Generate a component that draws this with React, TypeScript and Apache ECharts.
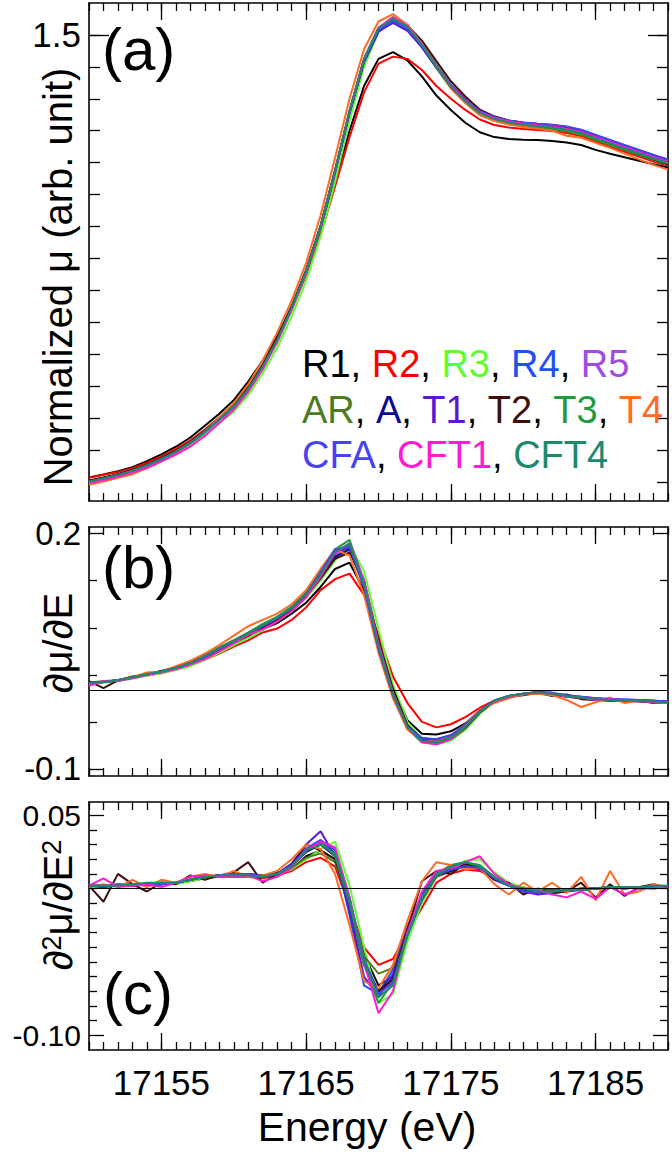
import React, { useEffect, useRef } from "react";
import * as echarts from "echarts";

const FONT = "'Liberation Sans', Arial, Helvetica, sans-serif";

// Energy grid (eV)
const ENERGY = [17150, 17151, 17152, 17153, 17154, 17155, 17156, 17157, 17158, 17159, 17160, 17161, 17162, 17163, 17164, 17165, 17166, 17167, 17168, 17169, 17170, 17171, 17172, 17173, 17174, 17175, 17176, 17177, 17178, 17179, 17180, 17181, 17182, 17183, 17184, 17185, 17186, 17187, 17188, 17189, 17190];

const SAMPLES = ["R1", "R2", "R3", "R4", "R5", "AR", "A", "T1", "T2", "T3", "T4", "CFA", "CFT1", "CFT4"];
const COLORS = ["#000000", "#ff0000", "#5cff2a", "#1f50f0", "#a04ce0", "#4e7a21", "#0a0a96", "#5b17d6", "#40100f", "#1f9a3c", "#ff6b21", "#4842f2", "#ff1ad6", "#1b8a6c"];
const LEGEND_ROWS = [[0, 1, 2, 3, 4], [5, 6, 7, 8, 9, 10], [11, 12, 13]];

// Tick values
const X_MAJOR = [17155, 17165, 17175, 17185];
const YA_MINOR = [0.1, 0.2, 0.3, 0.4, 0.5, 0.6, 0.7, 0.8, 0.9, 1.0, 1.1, 1.2, 1.3, 1.4, 1.5];
const YA_MAJOR = [1.5];
const YB_MINOR = [-0.04, 0.02, 0.08, 0.14];
const YB_MAJOR = [-0.1, 0.2];
const YC_MINOR = [-0.09, -0.08, -0.07, -0.06, -0.05, -0.04, -0.03, -0.02, -0.01, 0, 0.01, 0.02, 0.03, 0.04];
const YC_MAJOR = [-0.1, 0.05];

// (a) normalized mu
const A_R1 = [0.114,0.123,0.133,0.146,0.165,0.186,0.210,0.239,0.276,0.313,0.356,0.414,0.480,0.556,0.648,0.752,0.885,1.040,1.200,1.340,1.425,1.446,1.420,1.370,1.310,1.265,1.225,1.195,1.180,1.174,1.172,1.171,1.168,1.163,1.155,1.140,1.128,1.117,1.106,1.095,1.085];
const A_R2 = [0.113,0.122,0.131,0.143,0.160,0.180,0.203,0.230,0.264,0.302,0.343,0.398,0.465,0.545,0.640,0.748,0.875,1.025,1.180,1.320,1.410,1.432,1.425,1.390,1.340,1.300,1.265,1.235,1.218,1.210,1.205,1.202,1.199,1.193,1.183,1.166,1.150,1.134,1.119,1.103,1.090];
const A_R3 = [0.098,0.107,0.118,0.130,0.146,0.165,0.188,0.214,0.248,0.284,0.320,0.372,0.440,0.520,0.618,0.730,0.868,1.040,1.230,1.400,1.510,1.550,1.530,1.478,1.410,1.345,1.297,1.257,1.237,1.224,1.216,1.211,1.206,1.199,1.189,1.172,1.156,1.140,1.125,1.109,1.095];
const A_R4 = [0.101,0.111,0.122,0.135,0.152,0.171,0.194,0.221,0.256,0.295,0.335,0.390,0.460,0.543,0.643,0.758,0.898,1.072,1.258,1.420,1.515,1.546,1.522,1.470,1.405,1.343,1.298,1.262,1.243,1.231,1.224,1.219,1.215,1.208,1.198,1.182,1.166,1.150,1.135,1.119,1.105];
const A_R5 = [0.100,0.110,0.121,0.134,0.151,0.170,0.193,0.220,0.255,0.294,0.334,0.389,0.458,0.541,0.641,0.756,0.896,1.070,1.256,1.420,1.517,1.550,1.524,1.470,1.403,1.340,1.296,1.260,1.242,1.231,1.225,1.221,1.217,1.211,1.201,1.185,1.169,1.153,1.138,1.122,1.108];
const A_AR = [0.103,0.113,0.124,0.137,0.154,0.174,0.197,0.224,0.260,0.299,0.340,0.395,0.465,0.548,0.648,0.762,0.902,1.076,1.262,1.424,1.520,1.553,1.525,1.468,1.398,1.333,1.287,1.249,1.231,1.220,1.213,1.209,1.205,1.198,1.188,1.171,1.155,1.139,1.124,1.108,1.094];
const A_A = [0.102,0.112,0.123,0.136,0.153,0.173,0.196,0.223,0.258,0.297,0.337,0.392,0.462,0.545,0.644,0.758,0.897,1.070,1.255,1.415,1.510,1.540,1.515,1.462,1.397,1.336,1.292,1.256,1.238,1.227,1.220,1.215,1.211,1.204,1.194,1.177,1.161,1.145,1.130,1.114,1.100];
const A_T1 = [0.101,0.111,0.122,0.135,0.152,0.172,0.195,0.222,0.257,0.296,0.336,0.391,0.461,0.544,0.644,0.759,0.899,1.073,1.258,1.418,1.512,1.538,1.513,1.462,1.400,1.342,1.298,1.261,1.242,1.231,1.225,1.221,1.218,1.212,1.202,1.186,1.170,1.154,1.139,1.123,1.109];
const A_T2 = [0.104,0.114,0.124,0.137,0.154,0.174,0.197,0.224,0.260,0.299,0.340,0.396,0.467,0.550,0.650,0.764,0.903,1.076,1.262,1.425,1.522,1.552,1.530,1.482,1.418,1.355,1.307,1.266,1.245,1.232,1.225,1.221,1.217,1.208,1.196,1.178,1.160,1.143,1.127,1.110,1.095];
const A_T3 = [0.100,0.110,0.121,0.134,0.151,0.171,0.194,0.221,0.256,0.295,0.335,0.390,0.460,0.543,0.643,0.758,0.898,1.073,1.260,1.424,1.521,1.556,1.528,1.470,1.400,1.336,1.291,1.253,1.235,1.224,1.217,1.212,1.208,1.201,1.191,1.174,1.158,1.142,1.127,1.111,1.097];
const A_T4 = [0.091,0.101,0.113,0.124,0.142,0.164,0.190,0.220,0.258,0.302,0.347,0.406,0.480,0.567,0.668,0.786,0.935,1.115,1.300,1.455,1.542,1.565,1.532,1.472,1.400,1.333,1.287,1.250,1.231,1.219,1.212,1.206,1.200,1.184,1.178,1.162,1.146,1.128,1.110,1.093,1.078];
const A_CFA = [0.100,0.110,0.121,0.134,0.151,0.171,0.194,0.221,0.256,0.295,0.335,0.390,0.460,0.543,0.643,0.758,0.898,1.072,1.258,1.419,1.514,1.542,1.518,1.466,1.402,1.341,1.297,1.261,1.243,1.232,1.226,1.222,1.219,1.213,1.203,1.187,1.171,1.155,1.140,1.124,1.110];
const A_CFT1 = [0.096,0.106,0.117,0.129,0.145,0.164,0.185,0.210,0.244,0.284,0.326,0.382,0.453,0.537,0.638,0.754,0.896,1.072,1.260,1.424,1.522,1.556,1.528,1.471,1.403,1.340,1.295,1.258,1.240,1.229,1.222,1.217,1.213,1.206,1.196,1.180,1.164,1.148,1.133,1.117,1.103];
const A_CFT4 = [0.101,0.111,0.122,0.135,0.152,0.172,0.195,0.222,0.257,0.296,0.336,0.391,0.461,0.544,0.644,0.759,0.899,1.074,1.261,1.423,1.520,1.551,1.525,1.469,1.400,1.337,1.292,1.255,1.237,1.226,1.219,1.214,1.210,1.203,1.193,1.176,1.160,1.144,1.129,1.113,1.099];

// (b) first derivative
const D_R1 = [0.010,0.011,0.013,0.016,0.020,0.023,0.028,0.033,0.041,0.050,0.060,0.068,0.078,0.086,0.098,0.112,0.132,0.155,0.163,0.128,0.062,0.004,-0.038,-0.055,-0.056,-0.052,-0.042,-0.026,-0.014,-0.008,-0.005,-0.003,-0.005,-0.008,-0.010,-0.012,-0.013,-0.013,-0.014,-0.015,-0.016];
const D_R2 = [0.009,0.011,0.012,0.016,0.019,0.022,0.027,0.032,0.039,0.047,0.056,0.064,0.074,0.079,0.090,0.106,0.128,0.142,0.149,0.122,0.070,0.018,-0.016,-0.040,-0.047,-0.043,-0.034,-0.022,-0.013,-0.008,-0.005,-0.003,-0.004,-0.007,-0.009,-0.011,-0.012,-0.012,-0.013,-0.014,-0.015];
const D_R3 = [0.008,0.010,0.012,0.015,0.019,0.022,0.026,0.031,0.039,0.048,0.058,0.067,0.077,0.088,0.101,0.118,0.140,0.166,0.186,0.152,0.078,0.008,-0.040,-0.062,-0.068,-0.064,-0.050,-0.030,-0.015,-0.008,-0.004,-0.003,-0.004,-0.007,-0.009,-0.011,-0.012,-0.013,-0.013,-0.014,-0.015];
const D_R4 = [0.009,0.011,0.013,0.017,0.021,0.024,0.029,0.035,0.043,0.053,0.063,0.072,0.082,0.093,0.106,0.124,0.150,0.178,0.186,0.135,0.055,-0.006,-0.047,-0.063,-0.065,-0.060,-0.045,-0.026,-0.013,-0.007,-0.004,-0.002,-0.004,-0.007,-0.009,-0.011,-0.012,-0.012,-0.013,-0.014,-0.014];
const D_R5 = [0.009,0.011,0.013,0.016,0.020,0.024,0.029,0.035,0.043,0.053,0.062,0.071,0.082,0.092,0.105,0.122,0.147,0.174,0.184,0.137,0.057,-0.004,-0.046,-0.062,-0.064,-0.059,-0.045,-0.027,-0.014,-0.008,-0.005,-0.003,-0.004,-0.007,-0.009,-0.010,-0.011,-0.012,-0.012,-0.013,-0.014];
const D_AR = [0.010,0.012,0.013,0.017,0.021,0.025,0.030,0.036,0.045,0.055,0.064,0.073,0.084,0.094,0.106,0.123,0.145,0.170,0.180,0.133,0.056,-0.005,-0.046,-0.063,-0.066,-0.061,-0.046,-0.027,-0.013,-0.007,-0.004,-0.003,-0.004,-0.007,-0.009,-0.011,-0.012,-0.012,-0.013,-0.014,-0.015];
const D_A = [0.010,0.011,0.013,0.017,0.021,0.024,0.029,0.035,0.043,0.053,0.063,0.072,0.082,0.092,0.104,0.121,0.145,0.171,0.180,0.134,0.057,-0.003,-0.045,-0.061,-0.063,-0.059,-0.045,-0.027,-0.014,-0.008,-0.005,-0.003,-0.004,-0.007,-0.009,-0.011,-0.012,-0.012,-0.013,-0.014,-0.015];
const D_T1 = [0.009,0.011,0.013,0.017,0.021,0.024,0.029,0.035,0.044,0.054,0.063,0.072,0.082,0.092,0.105,0.123,0.150,0.177,0.182,0.133,0.054,-0.006,-0.046,-0.061,-0.062,-0.057,-0.044,-0.026,-0.013,-0.007,-0.004,-0.002,-0.003,-0.006,-0.008,-0.010,-0.011,-0.012,-0.012,-0.013,-0.014];
const D_T2 = [0.012,0.003,0.013,0.018,0.020,0.025,0.028,0.034,0.042,0.051,0.062,0.070,0.080,0.090,0.103,0.120,0.143,0.168,0.176,0.140,0.064,0.002,-0.044,-0.064,-0.067,-0.062,-0.048,-0.028,-0.014,-0.008,-0.006,-0.003,-0.007,-0.005,-0.011,-0.012,-0.010,-0.014,-0.013,-0.016,-0.015];
const D_T3 = [0.009,0.011,0.013,0.017,0.021,0.024,0.029,0.035,0.044,0.055,0.064,0.074,0.085,0.094,0.107,0.125,0.150,0.180,0.192,0.139,0.056,-0.006,-0.049,-0.066,-0.068,-0.062,-0.047,-0.027,-0.013,-0.007,-0.004,-0.003,-0.004,-0.007,-0.009,-0.011,-0.012,-0.012,-0.013,-0.014,-0.015];
const D_T4 = [0.008,0.011,0.013,0.017,0.023,0.024,0.031,0.038,0.047,0.058,0.070,0.082,0.090,0.098,0.110,0.128,0.155,0.180,0.172,0.122,0.048,-0.010,-0.050,-0.064,-0.065,-0.058,-0.043,-0.024,-0.016,-0.010,-0.005,-0.004,-0.006,-0.012,-0.021,-0.015,-0.009,-0.016,-0.013,-0.015,-0.016];
const D_CFA = [0.009,0.011,0.013,0.016,0.020,0.024,0.029,0.035,0.043,0.053,0.063,0.072,0.082,0.092,0.105,0.123,0.151,0.180,0.183,0.132,0.053,-0.006,-0.046,-0.061,-0.062,-0.057,-0.044,-0.026,-0.013,-0.007,-0.004,-0.002,-0.003,-0.006,-0.008,-0.010,-0.011,-0.011,-0.012,-0.013,-0.014];
const D_CFT1 = [0.006,0.012,0.012,0.016,0.020,0.023,0.027,0.033,0.040,0.050,0.060,0.071,0.078,0.088,0.101,0.119,0.145,0.175,0.188,0.141,0.060,-0.003,-0.047,-0.066,-0.069,-0.062,-0.046,-0.027,-0.014,-0.008,-0.004,-0.003,-0.004,-0.008,-0.009,-0.012,-0.011,-0.013,-0.013,-0.015,-0.016];
const D_CFT4 = [0.010,0.011,0.013,0.017,0.021,0.024,0.029,0.035,0.044,0.054,0.063,0.073,0.083,0.093,0.105,0.123,0.148,0.177,0.187,0.136,0.056,-0.005,-0.047,-0.064,-0.066,-0.060,-0.046,-0.027,-0.013,-0.007,-0.004,-0.003,-0.004,-0.007,-0.009,-0.011,-0.012,-0.012,-0.013,-0.014,-0.015];

// (c) second derivative
const S_R1 = [0.002,0.001,0.003,0.002,0.003,0.004,0.004,0.006,0.008,0.009,0.008,0.009,0.008,0.011,0.013,0.022,0.026,0.020,-0.010,-0.045,-0.066,-0.060,-0.032,-0.006,0.008,0.012,0.016,0.013,0.007,0.003,0.000,-0.002,-0.001,-0.002,0.000,0.000,0.001,0.001,0.000,0.001,0.001];
const S_R2 = [0.002,0.002,0.002,0.003,0.003,0.003,0.004,0.005,0.007,0.008,0.008,0.008,0.007,0.009,0.012,0.018,0.021,0.015,-0.012,-0.040,-0.052,-0.048,-0.030,-0.013,0.004,0.010,0.013,0.012,0.007,0.003,0.001,-0.001,-0.001,-0.001,0.000,0.000,0.001,0.001,0.001,0.001,0.001];
const S_R3 = [0.001,0.002,0.002,0.003,0.003,0.003,0.003,0.005,0.007,0.009,0.009,0.009,0.008,0.010,0.013,0.020,0.027,0.032,0.002,-0.040,-0.078,-0.072,-0.036,-0.010,0.008,0.014,0.019,0.020,0.011,0.004,0.001,-0.002,-0.002,-0.001,-0.001,0.000,0.001,0.001,0.001,0.002,0.002];
const S_R4 = [0.002,0.002,0.002,0.003,0.003,0.003,0.004,0.006,0.008,0.009,0.010,0.010,0.009,0.010,0.016,0.027,0.033,0.024,-0.018,-0.066,-0.072,-0.055,-0.026,-0.004,0.010,0.014,0.016,0.014,0.007,0.002,-0.001,-0.003,-0.002,-0.001,-0.001,0.000,0.001,0.000,0.001,0.001,0.001];
const S_R5 = [0.002,0.002,0.003,0.003,0.003,0.004,0.004,0.006,0.008,0.009,0.009,0.009,0.008,0.010,0.015,0.025,0.031,0.022,-0.010,-0.050,-0.072,-0.062,-0.030,-0.007,0.009,0.013,0.015,0.014,0.007,0.002,0.000,-0.002,-0.002,-0.001,-0.001,0.000,0.001,0.001,0.001,0.001,0.001];
const S_AR = [0.002,0.002,0.002,0.003,0.003,0.003,0.004,0.006,0.008,0.009,0.009,0.009,0.008,0.010,0.014,0.021,0.024,0.018,-0.010,-0.046,-0.058,-0.054,-0.030,-0.008,0.008,0.013,0.016,0.014,0.007,0.002,0.000,-0.002,-0.002,-0.001,-0.001,0.000,0.001,0.001,0.001,0.001,0.001];
const S_A = [0.002,0.002,0.002,0.003,0.003,0.003,0.004,0.006,0.008,0.009,0.009,0.009,0.008,0.010,0.015,0.025,0.030,0.022,-0.012,-0.052,-0.070,-0.060,-0.029,-0.006,0.009,0.013,0.015,0.014,0.007,0.002,-0.001,-0.003,-0.002,-0.001,-0.001,0.000,0.001,0.001,0.001,0.001,0.001];
const S_T1 = [0.002,0.001,0.002,0.003,0.002,0.003,0.004,0.006,0.008,0.009,0.010,0.010,0.009,0.010,0.017,0.030,0.039,0.022,-0.015,-0.060,-0.074,-0.058,-0.027,-0.005,0.010,0.014,0.015,0.013,0.006,0.002,-0.002,-0.004,-0.003,-0.002,-0.001,0.000,0.001,0.000,0.001,0.000,0.001];
const S_T2 = [0.002,-0.009,0.010,0.003,-0.002,0.004,0.003,0.009,0.006,0.009,0.011,0.018,0.004,0.010,0.016,0.030,0.026,0.020,-0.008,-0.050,-0.070,-0.062,-0.028,0.005,0.012,0.010,0.017,0.014,0.006,0.004,-0.004,0.000,-0.003,-0.002,0.004,-0.006,0.003,-0.005,0.001,0.003,0.000];
const S_T3 = [0.002,0.002,0.002,0.003,0.003,0.003,0.004,0.006,0.008,0.009,0.009,0.009,0.008,0.010,0.015,0.026,0.032,0.022,-0.010,-0.052,-0.078,-0.064,-0.030,-0.006,0.010,0.016,0.018,0.016,0.008,0.002,0.000,-0.002,-0.002,-0.001,-0.001,0.000,0.001,0.001,0.001,0.001,0.001];
const S_T4 = [0.001,0.003,0.001,0.006,0.001,0.006,0.004,0.008,0.010,0.008,0.012,0.008,0.009,0.012,0.020,0.030,0.027,0.010,-0.025,-0.063,-0.068,-0.052,-0.022,0.005,0.018,0.016,0.013,0.014,0.003,-0.004,0.004,-0.002,0.004,-0.003,0.008,-0.008,0.012,-0.004,-0.002,0.003,0.001];
const S_CFA = [0.002,0.002,0.002,0.003,0.003,0.003,0.004,0.006,0.008,0.009,0.010,0.010,0.008,0.010,0.016,0.027,0.033,0.026,-0.006,-0.048,-0.072,-0.064,-0.032,-0.007,0.009,0.013,0.015,0.014,0.007,0.002,-0.002,-0.003,-0.002,-0.001,-0.001,0.000,0.001,0.000,0.001,0.001,0.001];
const S_CFT1 = [0.002,0.007,0.001,0.002,0.003,0.001,0.004,0.008,0.009,0.008,0.008,0.009,0.005,0.008,0.014,0.026,0.032,0.028,-0.006,-0.050,-0.085,-0.070,-0.030,-0.002,0.012,0.014,0.018,0.022,0.010,0.003,0.000,-0.001,-0.004,-0.006,-0.002,-0.007,0.001,-0.004,0.000,0.000,0.002];
const S_CFT4 = [0.002,0.002,0.002,0.003,0.004,0.004,0.004,0.006,0.008,0.009,0.009,0.009,0.008,0.010,0.015,0.026,0.030,0.024,-0.008,-0.050,-0.074,-0.066,-0.032,-0.006,0.009,0.015,0.018,0.015,0.008,0.002,0.000,-0.002,-0.002,-0.001,-0.001,0.000,0.001,0.001,0.001,0.002,0.002];

const PANEL_A = [A_R1, A_R2, A_R3, A_R4, A_R5, A_AR, A_A, A_T1, A_T2, A_T3, A_T4, A_CFA, A_CFT1, A_CFT4];
const PANEL_B = [D_R1, D_R2, D_R3, D_R4, D_R5, D_AR, D_A, D_T1, D_T2, D_T3, D_T4, D_CFA, D_CFT1, D_CFT4];
const PANEL_C = [S_R1, S_R2, S_R3, S_R4, S_R5, S_AR, S_A, S_T1, S_T2, S_T3, S_T4, S_CFA, S_CFT1, S_CFT4];

const GRIDS = [
  { left: 89, top: 3, width: 579, height: 498 },
  { left: 89, top: 527, width: 579, height: 249 },
  { left: 89, top: 802, width: 579, height: 248 },
];

const Y_RANGES = [
  { min: 0.04, max: 1.6, minor: YA_MINOR, major: YA_MAJOR, minorLen: 11, majorLen: 20, digits: 1, font: 35 },
  { min: -0.109, max: 0.2085, minor: YB_MINOR, major: YB_MAJOR, minorLen: 8, majorLen: 14, digits: 1, font: 33 },
  { min: -0.11, max: 0.059, minor: YC_MINOR, major: YC_MAJOR, minorLen: 8, majorLen: 15, digits: 2, font: 30 },
];

const AXIS_LINE = { show: true, onZero: false, lineStyle: { color: "#000", width: 1.6 } };
const NO_LINE = { show: false, onZero: false };
const TICK_STYLE = { color: "#000", width: 1.3 };

function makeXAxes(g: number, withLabels: boolean) {
  const base = { gridIndex: g, type: "value", min: 17150, max: 17190, splitLine: { show: false } };
  const minorTick = { show: true, inside: true, length: 8, lineStyle: TICK_STYLE };
  const majorTick = { show: true, inside: true, length: 17, customValues: X_MAJOR, lineStyle: TICK_STYLE };
  return [
    { ...base, position: "bottom", interval: 1, axisLine: AXIS_LINE, axisTick: minorTick, axisLabel: { show: false } },
    {
      ...base,
      position: "bottom",
      axisLine: NO_LINE,
      axisTick: majorTick,
      axisLabel: withLabels
        ? { show: true, customValues: X_MAJOR, formatter: (v: number) => String(v), fontSize: 35, fontFamily: FONT, color: "#000", margin: 15 }
        : { show: false },
    },
    { ...base, position: "top", interval: 1, axisLine: AXIS_LINE, axisTick: minorTick, axisLabel: { show: false } },
    { ...base, position: "top", axisLine: NO_LINE, axisTick: majorTick, axisLabel: { show: false } },
  ];
}

function makeYAxes(g: number) {
  const r = Y_RANGES[g];
  const base = { gridIndex: g, type: "value", min: r.min, max: r.max, splitLine: { show: false } };
  const minorTick = { show: true, inside: true, length: r.minorLen, customValues: r.minor, lineStyle: TICK_STYLE };
  const majorTick = { show: true, inside: true, length: r.majorLen, customValues: r.major, lineStyle: TICK_STYLE };
  return [
    { ...base, position: "left", axisLine: AXIS_LINE, axisTick: minorTick, axisLabel: { show: false } },
    {
      ...base,
      position: "left",
      axisLine: NO_LINE,
      axisTick: majorTick,
      axisLabel: { show: true, customValues: r.major, formatter: (v: number) => v.toFixed(r.digits), fontSize: r.font, fontFamily: FONT, color: "#000", margin: 8 },
    },
    { ...base, position: "right", axisLine: AXIS_LINE, axisTick: minorTick, axisLabel: { show: false } },
    { ...base, position: "right", axisLine: NO_LINE, axisTick: majorTick, axisLabel: { show: false } },
  ];
}

function buildOption() {
  const panels = [PANEL_A, PANEL_B, PANEL_C];
  const series: any[] = [];
  panels.forEach((panel, g) => {
    panel.forEach((arr, i) => {
      const s: any = {
        name: SAMPLES[i] + "_" + g,
        type: "line",
        xAxisIndex: 4 * g,
        yAxisIndex: 4 * g,
        data: ENERGY.map((e, k) => [e, arr[k]]),
        showSymbol: false,
        symbol: "none",
        lineStyle: { color: COLORS[i], width: 2 },
        itemStyle: { color: COLORS[i] },
        silent: true,
        z: 3,
      };
      if (g > 0 && i === 0) {
        s.markLine = {
          silent: true,
          symbol: ["none", "none"],
          label: { show: false },
          lineStyle: { color: "#000", width: 1.2, type: "solid" },
          data: [{ yAxis: 0 }],
        };
      }
      series.push(s);
    });
  });

  const rich: any = { c: { fill: "#000", fontSize: 38, fontFamily: FONT } };
  SAMPLES.forEach((s, i) => {
    rich["s" + i] = { fill: COLORS[i], fontSize: 38, fontFamily: FONT };
  });
  const legendLine = (idxs: number[]) =>
    idxs.map((i, k) => `{s${i}|${SAMPLES[i]}}` + (k < idxs.length - 1 ? "{c|, }" : "")).join("");
  const legendMiddles = [364, 410, 455];

  const plain = (text: string, x: number, y: number, fontSize: number, align: string, rotation = 0) => ({
    type: "text",
    x,
    y,
    rotation,
    style: { text, fontSize, fontFamily: FONT, fill: "#000", align, verticalAlign: "middle" },
  });

  const titleRich = {
    n: { fontSize: 40, fontFamily: FONT, fill: "#000" },
    sup: { fontSize: 27, fontFamily: FONT, fill: "#000", verticalAlign: "top" },
  };

  const graphic: any[] = [
    plain("(a)", 102, 49, 60, "left"),
    plain("(b)", 102, 567, 60, "left"),
    plain("(c)", 103, 993, 60, "left"),
    plain("Normalized μ (arb. unit)", 58, 277, 40, "center", Math.PI / 2),
    plain("∂μ/∂E", 58, 643, 40, "center", Math.PI / 2),
    {
      type: "text",
      x: 58,
      y: 905,
      rotation: Math.PI / 2,
      style: {
        text: "{n|∂}{sup|2}{n|μ/∂E}{sup|2}",
        rich: titleRich,
        fontSize: 40,
        fontFamily: FONT,
        fill: "#000",
        align: "center",
        verticalAlign: "middle",
      },
    },
    plain("Energy (eV)", 367, 1127, 41, "center"),
  ];
  LEGEND_ROWS.forEach((row, r) => {
    graphic.push({
      type: "text",
      x: 302,
      y: legendMiddles[r],
      z: 10,
      style: { text: legendLine(row), rich, fontSize: 38, fontFamily: FONT, fill: "#000", align: "left", verticalAlign: "middle" },
    });
  });

  const xAxis = [...makeXAxes(0, false), ...makeXAxes(1, false), ...makeXAxes(2, true)];
  const yAxis = [...makeYAxes(0), ...makeYAxes(1), ...makeYAxes(2)];

  return {
    animation: false,
    backgroundColor: "#ffffff",
    textStyle: { fontFamily: FONT },
    grid: GRIDS.map((g) => ({ ...g, containLabel: false })),
    xAxis,
    yAxis,
    series,
    graphic,
  };
}

export default function App() {
  const ref = useRef<HTMLDivElement>(null);
  useEffect(() => {
    document.body.style.margin = "0";
    const chart = echarts.init(ref.current as HTMLDivElement, null, { renderer: "svg" });
    chart.setOption(buildOption() as any);
    return () => chart.dispose();
  }, []);
  return <div ref={ref} style={{ width: 672, height: 1154 }} />;
}
